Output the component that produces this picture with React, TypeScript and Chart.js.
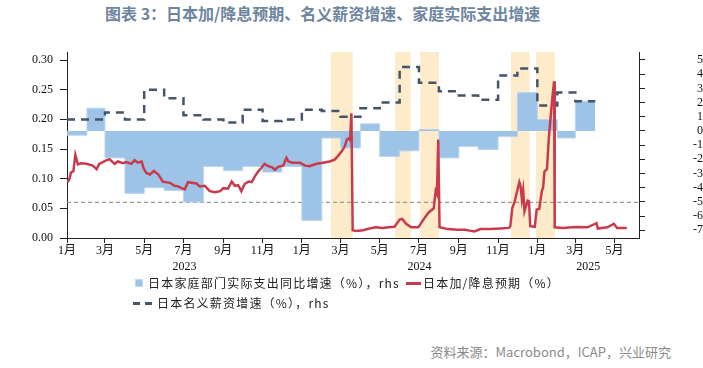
import React, { useEffect, useRef } from 'react';
import { Chart, registerables } from 'chart.js';

Chart.register(...registerables);

// ---------- DATA ----------
const monthCategories = [
  '2023-01', '2023-02', '2023-03', '2023-04', '2023-05', '2023-06', '2023-07', '2023-08', '2023-09',
  '2023-10', '2023-11', '2023-12', '2024-01', '2024-02', '2024-03', '2024-04', '2024-05', '2024-06',
  '2024-07', '2024-08', '2024-09', '2024-10', '2024-11', '2024-12', '2025-01', '2025-02', '2025-03',
];
// 日本家庭部门实际支出同比增速（%），rhs
const spendingValues = [
  -0.3, 1.6, -1.9, -4.4, -4.0, -4.2, -5.0, -2.5, -2.8, -2.5, -2.9, -2.5, -6.3, -0.5, -1.2, 0.5, -1.8,
  -1.4, 0.1, -1.9, -1.1, -1.3, -0.4, 2.7, 0.8, -0.5, 2.1,
];
// 日本名义薪资增速（%），rhs
const wageValues = [
  0.8, 0.8, 1.3, 0.8, 2.9, 2.3, 1.1, 0.8, 0.6, 1.5, 0.7, 0.8, 1.5, 1.4, 1.0, 1.6, 2.0, 4.5, 3.4, 2.8,
  2.5, 2.2, 3.9, 4.4, 1.8, 2.7, 2.1,
];
// 日本加/降息预期（%）
const rateDates = [
  '2023-01-02', '2023-01-05', '2023-01-07', '2023-01-11', '2023-01-14', '2023-01-18', '2023-01-23', '2023-01-31',
  '2023-02-10', '2023-02-16', '2023-02-20', '2023-03-03', '2023-03-08', '2023-03-16', '2023-03-21', '2023-03-29',
  '2023-04-03', '2023-04-11', '2023-04-16', '2023-04-21', '2023-04-27', '2023-04-30', '2023-05-04', '2023-05-10',
  '2023-05-16', '2023-05-23', '2023-05-30', '2023-06-10', '2023-06-17', '2023-06-23', '2023-06-28', '2023-07-03',
  '2023-07-08', '2023-07-21', '2023-07-26', '2023-08-03', '2023-08-11', '2023-08-19', '2023-08-27', '2023-09-01',
  '2023-09-08', '2023-09-14', '2023-09-19', '2023-09-24', '2023-09-29', '2023-10-04', '2023-10-10', '2023-10-15',
  '2023-10-20', '2023-10-25', '2023-10-30', '2023-11-04', '2023-11-10', '2023-11-16', '2023-11-20', '2023-11-25',
  '2023-12-03', '2023-12-08', '2023-12-11', '2023-12-18', '2023-12-29', '2024-01-06', '2024-01-13', '2024-01-24',
  '2024-02-03', '2024-02-13', '2024-02-21', '2024-02-26', '2024-03-03', '2024-03-08', '2024-03-11', '2024-03-14',
  '2024-03-16', '2024-03-18', '2024-03-20', '2024-03-25', '2024-04-05', '2024-04-15', '2024-04-25', '2024-05-05',
  '2024-05-15', '2024-05-24', '2024-06-01', '2024-06-05', '2024-06-11', '2024-06-19', '2024-06-30', '2024-07-08',
  '2024-07-16', '2024-07-24', '2024-07-27', '2024-07-29', '2024-07-31', '2024-08-02', '2024-08-15', '2024-08-30',
  '2024-09-10', '2024-09-20', '2024-09-25', '2024-10-05', '2024-10-20', '2024-11-05', '2024-11-18', '2024-11-20',
  '2024-11-23', '2024-11-27', '2024-12-01', '2024-12-04', '2024-12-06', '2024-12-08', '2024-12-10', '2024-12-12',
  '2024-12-17', '2024-12-19', '2024-12-21', '2024-12-28', '2024-12-31', '2025-01-04', '2025-01-08', '2025-01-10',
  '2025-01-12', '2025-01-16', '2025-01-19', '2025-01-22', '2025-01-24', '2025-01-27', '2025-01-28', '2025-02-10',
  '2025-03-01', '2025-03-20', '2025-04-03', '2025-04-05', '2025-04-20', '2025-04-30', '2025-05-05', '2025-05-20',
];
const rateValues = [
  0.094, 0.1, 0.11, 0.113, 0.14, 0.124, 0.126, 0.125,
  0.122, 0.116, 0.125, 0.131, 0.133, 0.125, 0.129, 0.126,
  0.128, 0.125, 0.131, 0.127, 0.129, 0.118, 0.11, 0.107,
  0.113, 0.107, 0.095, 0.093, 0.088, 0.087, 0.084, 0.082,
  0.094, 0.092, 0.087, 0.088, 0.079, 0.077, 0.079, 0.084,
  0.083, 0.095, 0.088, 0.089, 0.079, 0.091, 0.095, 0.094,
  0.104, 0.112, 0.118, 0.125, 0.121, 0.119, 0.115, 0.12,
  0.122, 0.135, 0.129, 0.127, 0.127, 0.122, 0.121, 0.125,
  0.127, 0.129, 0.132, 0.138, 0.146, 0.155, 0.166, 0.168,
  0.165, 0.21, 0.013, 0.012, 0.013, 0.016, 0.018, 0.017,
  0.018, 0.019, 0.031, 0.032, 0.024, 0.018, 0.018, 0.031,
  0.043, 0.05, 0.079, 0.074, 0.166, 0.018, 0.015, 0.014,
  0.014, 0.012, 0.011, 0.015, 0.015, 0.016, 0.017, 0.02,
  0.05, 0.062, 0.081, 0.094, 0.087, 0.065, 0.08, 0.045,
  0.063, 0.062, 0.02, 0.019, 0.048, 0.049, 0.079, 0.085,
  0.112, 0.116, 0.171, 0.208, 0.233, 0.264, 0.018, 0.017,
  0.0185, 0.018, 0.025, 0.016, 0.018, 0.024, 0.017, 0.017,
];
// 加息窗口（阴影）
const bandStarts = ['2024-02-15', '2024-05-25', '2024-07-03', '2024-11-21', '2024-12-30'];
const bandEnds = ['2024-03-20', '2024-06-18', '2024-08-01', '2024-12-20', '2025-01-28'];
// 参考线
const referenceLevel = 0.06;
// 刻度
const xTickMonths = [
  '2023-01', '2023-03', '2023-05', '2023-07', '2023-09', '2023-11', '2024-01', '2024-03', '2024-05',
  '2024-07', '2024-09', '2024-11', '2025-01', '2025-03', '2025-05',
];
const yearLabels = ['2023', '2024', '2025'];
const leftTicks = [0, 0.05, 0.1, 0.15, 0.2, 0.25, 0.3];
const rightTicks = [-7, -6, -5, -4, -3, -2, -1, 0, 1, 2, 3, 4, 5];
const xStart = '2023-01-01';
const xEnd = '2025-06-08';

// ---------- HELPERS ----------
const BASE = Date.UTC(2023, 0, 1);
function dayOf(s: string): number {
  const p = s.split('-').map(Number);
  return (Date.UTC(p[0], p[1] - 1, p[2] || 1) - BASE) / 86400000;
}
function nextMonth(m: string): string {
  const [y, mo] = m.split('-').map(Number);
  return mo === 12 ? `${y + 1}-01` : `${y}-${String(mo + 1).padStart(2, '0')}`;
}
function steppedSeries(months: string[], vals: number[]) {
  const pts = months.map((m, i) => ({ x: dayOf(m), y: vals[i] }));
  pts.push({ x: dayOf(nextMonth(months[months.length - 1])), y: vals[vals.length - 1] });
  return pts;
}

const SERIF = "'Liberation Serif', 'Times New Roman', 'Noto Sans CJK SC', serif";
const CJK = "'Noto Sans CJK SC', 'Noto Sans', sans-serif";

const bandPlugin = {
  id: 'bands',
  beforeDatasetsDraw(chart: any) {
    const { ctx, chartArea, scales } = chart;
    const xs = scales.x;
    ctx.save();
    ctx.fillStyle = '#fdebca';
    bandStarts.forEach((s, i) => {
      const x1 = xs.getPixelForValue(dayOf(s));
      const x2 = xs.getPixelForValue(dayOf(bandEnds[i]));
      ctx.fillRect(x1, chartArea.top, x2 - x1, chartArea.bottom - chartArea.top);
    });
    ctx.restore();
  },
};

const yearPlugin = {
  id: 'years',
  afterDraw(chart: any) {
    const { ctx, chartArea, scales } = chart;
    const xs = scales.x;
    ctx.save();
    ctx.font = `12px ${SERIF}`;
    ctx.fillStyle = '#111';
    ctx.textAlign = 'center';
    ctx.textBaseline = 'middle';
    yearLabels.forEach((y) => {
      const a = Math.max(dayOf(`${y}-01-01`), xs.min);
      const b = Math.min(dayOf(`${Number(y) + 1}-01-01`), xs.max);
      const xm = (xs.getPixelForValue(a) + xs.getPixelForValue(b)) / 2;
      ctx.fillText(y, xm, chartArea.bottom + 29);
    });
    ctx.restore();
  },
};

function ChartCanvas() {
  const ref = useRef<HTMLCanvasElement | null>(null);
  useEffect(() => {
    if (!ref.current) return;
    const axisColor = '#222';
    const chart = new Chart(ref.current, {
      type: 'line',
      data: {
        datasets: [
          {
            label: '日本加/降息预期（%）',
            data: rateDates.map((d, i) => ({ x: dayOf(d), y: rateValues[i] })),
            borderColor: '#c93a4c',
            borderWidth: 2.5,
            pointRadius: 0,
            tension: 0,
            yAxisID: 'y',
            order: 0,
          },
          {
            label: '日本名义薪资增速（%），rhs',
            data: steppedSeries(monthCategories, wageValues),
            borderColor: '#44546a',
            borderWidth: 2.5,
            borderDash: [8, 6],
            pointRadius: 0,
            stepped: 'before',
            yAxisID: 'y1',
            order: 1,
          },
          {
            label: '日本家庭部门实际支出同比增速（%），rhs',
            data: steppedSeries(monthCategories, spendingValues),
            borderColor: '#bcd6ee',
            borderWidth: 1,
            backgroundColor: '#9dc3e6',
            fill: 'origin',
            pointRadius: 0,
            stepped: 'before',
            yAxisID: 'y1',
            order: 2,
          },
          {
            label: 'ref',
            data: [
              { x: dayOf(xStart), y: referenceLevel },
              { x: dayOf(xEnd), y: referenceLevel },
            ],
            borderColor: '#9a9a9a',
            borderWidth: 1.2,
            borderDash: [4, 3],
            pointRadius: 0,
            yAxisID: 'y',
            order: 3,
          },
        ],
      } as any,
      options: {
        responsive: false,
        animation: false,
        layout: { padding: { top: 52, left: 0, right: 0, bottom: 0 } },
        plugins: { legend: { display: false }, tooltip: { enabled: false }, title: { display: false } },
        scales: {
          x: {
            type: 'linear',
            position: 'bottom',
            min: dayOf(xStart),
            max: dayOf(xEnd),
            afterBuildTicks: (s: any) => {
              s.ticks = xTickMonths.map((m) => ({ value: dayOf(m) }));
            },
            afterFit: (s: any) => {
              s.height = 62;
            },
            grid: { display: true, drawOnChartArea: false, drawTicks: true, tickLength: 5, color: axisColor },
            border: { display: true, color: axisColor, width: 1 },
            ticks: {
              autoSkip: false,
              maxRotation: 0,
              padding: 1,
              color: '#111',
              font: { size: 12, family: SERIF },
              callback: (_v: any, i: number) => `${Number(xTickMonths[i].slice(5))}月`,
            },
          },
          y: {
            type: 'linear',
            position: 'left',
            min: 0,
            max: 0.3135,
            afterBuildTicks: (s: any) => {
              s.ticks = leftTicks.map((v) => ({ value: v }));
            },
            afterFit: (s: any) => {
              s.width = 67;
            },
            grid: { display: true, drawOnChartArea: false, drawTicks: true, tickLength: 7, color: axisColor },
            border: { display: true, color: axisColor, width: 1 },
            ticks: {
              autoSkip: false,
              padding: 7,
              color: '#111',
              font: { size: 12, family: SERIF },
              callback: (v: any) => Number(v).toFixed(2),
            },
          },
          y1: {
            type: 'linear',
            position: 'right',
            min: -7.54,
            max: 5.56,
            afterBuildTicks: (s: any) => {
              s.ticks = rightTicks.map((v) => ({ value: v }));
            },
            afterFit: (s: any) => {
              s.width = 64;
            },
            grid: { display: true, drawOnChartArea: false, drawTicks: true, tickLength: 6, color: axisColor },
            border: { display: true, color: axisColor, width: 1 },
            ticks: {
              autoSkip: false,
              padding: 5,
              crossAlign: 'far',
              color: '#111',
              font: { size: 12, family: SERIF },
              callback: (v: any) => String(v),
            },
          },
        },
      } as any,
      plugins: [bandPlugin, yearPlugin],
    });
    return () => chart.destroy();
  }, []);
  return (
    <canvas
      ref={ref}
      width={703}
      height={300}
      style={{ position: 'absolute', left: 0, top: 0, width: 703, height: 300 }}
    />
  );
}

export default function App() {
  const legendText: React.CSSProperties = {
    position: 'absolute',
    fontFamily: CJK,
    fontSize: 12,
    letterSpacing: 1.2,
    color: '#222',
    lineHeight: '14px',
    whiteSpace: 'nowrap',
  };
  return (
    <div
      style={{
        position: 'fixed',
        left: 0,
        top: 0,
        width: 703,
        height: 368,
        background: '#fff',
        overflow: 'hidden',
      }}
    >
      <div
        style={{
          position: 'absolute',
          left: 105,
          top: 3,
          fontFamily: CJK,
          fontWeight: 700,
          fontSize: 16,
          lineHeight: '20px',
          color: '#6e85a0',
          whiteSpace: 'nowrap',
        }}
      >
        图表 3：日本加/降息预期、名义薪资增速、家庭实际支出增速
      </div>
      <ChartCanvas />
      {/* legend row 1 */}
      <div
        style={{
          position: 'absolute',
          left: 135,
          top: 279,
          width: 8,
          height: 8,
          background: '#9dc3e6',
          boxSizing: 'border-box',
          border: '1.5px solid #c3dbf0',
        }}
      />
      <div style={{ ...legendText, left: 148, top: 276 }}>日本家庭部门实际支出同比增速（%），rhs</div>
      <div style={{ position: 'absolute', left: 406, top: 282, width: 15, height: 3, background: '#c93a4c' }} />
      <div style={{ ...legendText, left: 423, top: 276 }}>日本加/降息预期（%）</div>
      {/* legend row 2 */}
      <div style={{ position: 'absolute', left: 133, top: 302, width: 7, height: 3, background: '#44546a' }} />
      <div style={{ position: 'absolute', left: 145, top: 302, width: 7, height: 3, background: '#44546a' }} />
      <div style={{ ...legendText, left: 157, top: 296 }}>日本名义薪资增速（%），rhs</div>
      <div
        style={{
          position: 'absolute',
          right: 32,
          top: 344,
          fontFamily: CJK,
          fontSize: 13,
          lineHeight: '16px',
          color: '#8a8a8a',
          whiteSpace: 'nowrap',
        }}
      >
        资料来源：Macrobond，ICAP，兴业研究
      </div>
    </div>
  );
}
